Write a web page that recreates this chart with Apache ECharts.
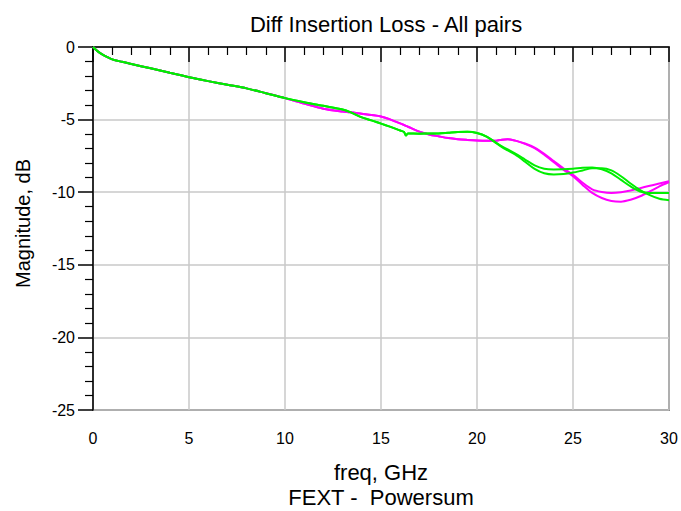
<!DOCTYPE html>
<html>
<head>
<meta charset="utf-8">
<script src="https://cdn.jsdelivr.net/npm/echarts@6/dist/echarts.min.js"></script>
<style>html,body{margin:0;padding:0;background:#fff;overflow:hidden}#c{width:681px;height:511px}</style>
</head>
<body>
<div id="c"></div>
<script>
// Data (frequency in GHz, magnitude in dB)
const freq = [0, 0.25, 0.5, 0.75, 1, 1.5, 2, 3, 4, 5, 6, 7, 8, 9, 10, 11, 12, 13, 13.4, 14, 14.5, 15, 15.5, 16, 16.2, 16.3, 16.4, 17, 17.5, 18, 18.5, 19, 19.5, 20, 20.5, 21, 21.3, 21.6, 22, 22.5, 23, 23.5, 24, 24.5, 25, 25.5, 26, 26.5, 27, 27.5, 28, 28.5, 29, 29.5, 30];
const magentaA = [0, -0.3, -0.52, -0.7, -0.85, -1.02, -1.17, -1.47, -1.78, -2.08, -2.35, -2.6, -2.85, -3.18, -3.52, -3.9, -4.25, -4.45, -4.5, -4.6, -4.68, -4.78, -5.0, -5.26, -5.37, -5.43, -5.49, -5.83, -6.02, -6.15, -6.27, -6.35, -6.4, -6.44, -6.46, -6.45, -6.38, -6.35, -6.45, -6.65, -6.93, -7.35, -7.85, -8.35, -8.8, -9.35, -9.8, -9.98, -10.05, -10.0, -9.88, -9.72, -9.55, -9.4, -9.25];
const magentaB = [0, -0.3, -0.52, -0.7, -0.85, -1.02, -1.17, -1.47, -1.78, -2.08, -2.35, -2.6, -2.85, -3.18, -3.52, -3.9, -4.25, -4.45, -4.5, -4.6, -4.68, -4.78, -5.0, -5.26, -5.37, -5.43, -5.49, -5.83, -6.02, -6.15, -6.27, -6.35, -6.4, -6.44, -6.46, -6.45, -6.38, -6.35, -6.45, -6.67, -6.97, -7.42, -7.93, -8.45, -8.9, -9.5, -10.05, -10.4, -10.6, -10.65, -10.52, -10.28, -9.95, -9.6, -9.3];
const greenA = [0, -0.3, -0.52, -0.7, -0.85, -1.02, -1.17, -1.47, -1.78, -2.08, -2.35, -2.6, -2.85, -3.18, -3.52, -3.8, -4.05, -4.3, -4.48, -4.85, -5.05, -5.28, -5.5, -5.75, -5.85, -6.1, -5.95, -5.97, -5.96, -5.95, -5.9, -5.85, -5.84, -5.92, -6.17, -6.6, -6.85, -7.05, -7.35, -7.75, -8.15, -8.38, -8.43, -8.42, -8.38, -8.32, -8.3, -8.42, -8.7, -9.15, -9.6, -9.95, -10.05, -10.05, -10.05];
const greenB = [0, -0.3, -0.52, -0.7, -0.85, -1.02, -1.17, -1.47, -1.78, -2.08, -2.35, -2.6, -2.85, -3.18, -3.52, -3.8, -4.05, -4.3, -4.48, -4.85, -5.05, -5.28, -5.5, -5.75, -5.85, -6.1, -5.95, -5.97, -5.96, -5.95, -5.9, -5.85, -5.84, -5.92, -6.17, -6.62, -6.9, -7.12, -7.42, -7.9, -8.4, -8.7, -8.78, -8.75, -8.65, -8.5, -8.35, -8.35, -8.5, -8.9, -9.4, -9.85, -10.2, -10.45, -10.55];
const xTicks = [0, 5, 10, 15, 20, 25, 30];
const yTicks = [0, -5, -10, -15, -20, -25];

const pairs = arr => freq.map((f, i) => [f, arr[i]]);
const font = 'Arial, "Liberation Sans", sans-serif';

const chart = echarts.init(document.getElementById('c'), null, {renderer: 'svg', width: 681, height: 511});
const mkSeries = (name, arr, color) => ({
  name, type: 'line', data: pairs(arr), showSymbol: false, smooth: 0.3,
  lineStyle: {color, width: 2}, itemStyle: {color}, animation: false, z: 3
});
chart.setOption({
  animation: false,
  backgroundColor: '#fff',
  title: {
    text: 'Diff Insertion Loss - All pairs', left: 381, top: 8, textAlign: 'center',
    textStyle: {fontFamily: font, fontSize: 22, fontWeight: 'normal', color: '#000', lineHeight: 22}
  },
  grid: {left: 93, width: 576, top: 47, height: 363, outerBoundsMode: 'none', containLabel: false,
    show: true, borderColor: '#333', borderWidth: 1.5, backgroundColor: 'transparent'},
  xAxis: {
    type: 'value', min: 0, max: 30, interval: 5,
    name: 'freq, GHz\nFEXT -  Powersum', nameLocation: 'middle', nameGap: 50,
    nameTextStyle: {fontFamily: font, fontSize: 22, color: '#000', lineHeight: 25},
    axisLine: {show: true, lineStyle: {color: '#000', width: 1.5}},
    axisTick: {show: true, inside: false, length: 15, lineStyle: {color: '#000', width: 1.5}},
    minorTick: {show: true, splitNumber: 5, length: 8, lineStyle: {color: '#000', width: 1.2}},
    splitLine: {show: true, lineStyle: {color: '#c8c8c8', width: 1.5}},
    axisLabel: {fontFamily: font, fontSize: 16, color: '#000', margin: 20, lineHeight: 16,
      customValues: xTicks, formatter: v => String(v)}
  },
  yAxis: {
    type: 'value', min: -25, max: 0, interval: 5,
    name: 'Magnitude, dB', nameLocation: 'middle', nameGap: 60, nameRotate: 90,
    nameTextStyle: {fontFamily: font, fontSize: 20, color: '#000', lineHeight: 20, padding: [0, 0, 0, 10]},
    axisLine: {show: true, lineStyle: {color: '#000', width: 1.5}},
    axisTick: {show: true, inside: false, length: 15, lineStyle: {color: '#000', width: 1.5}},
    minorTick: {show: true, splitNumber: 5, length: 8, lineStyle: {color: '#000', width: 1.2}},
    splitLine: {show: true, lineStyle: {color: '#c8c8c8', width: 1.5}},
    axisLabel: {fontFamily: font, fontSize: 16, color: '#000', margin: 18,
      customValues: yTicks, formatter: v => String(v)}
  },
  series: [
    mkSeries('Pair 1 (magenta)', magentaA, '#ff00ff'),
    mkSeries('Pair 2 (magenta)', magentaB, '#ff00ff'),
    mkSeries('Pair 1 (green)', greenA, '#00ee00'),
    mkSeries('Pair 2 (green)', greenB, '#00ee00')
  ]
});
</script>
</body>
</html>
